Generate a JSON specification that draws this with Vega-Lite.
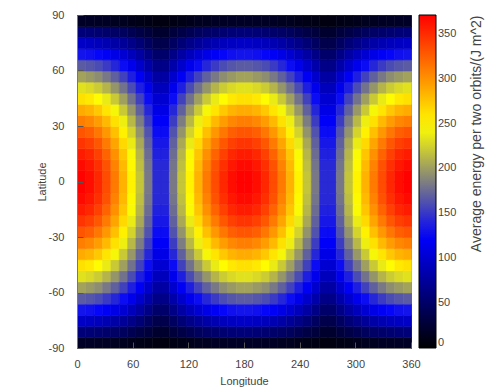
{
"$schema":"https://vega.github.io/schema/vega-lite/v6.json",
"width":334,"height":333,
"autosize":"none",
"padding":{"left":77,"top":15,"right":74,"bottom":44},
"background":"white",
"config":{
 "font":"Liberation Sans",
 "view":{"stroke":"#777","strokeWidth":1},
 "axis":{"grid":false,"labelFontSize":11,"labelColor":"#444","titleFontSize":11,"titleFontWeight":"normal","titleColor":"#444","domainColor":"#777","tickColor":"#555","labelFlush":false},
 "legend":{"gradientLength":333,"gradientThickness":17,"gradientStrokeColor":"#000","gradientStrokeWidth":1,"labelOffset":10,"labelFontSize":11,"labelColor":"#444","labelBaseline":"middle","padding":0}
},
"layer":[
{
"data":{"values":[
{"x":0,"y":-90,"v":19},{"x":9,"y":-90,"v":19},{"x":18,"y":-90,"v":18},{"x":27,"y":-90,"v":18},{"x":36,"y":-90,"v":16},{"x":45,"y":-90,"v":15},{"x":54,"y":-90,"v":13},{"x":63,"y":-90,"v":11},{"x":72,"y":-90,"v":10},{"x":81,"y":-90,"v":8},{"x":90,"y":-90,"v":8},{"x":99,"y":-90,"v":10},{"x":108,"y":-90,"v":11},{"x":117,"y":-90,"v":13},{"x":126,"y":-90,"v":15},{"x":135,"y":-90,"v":16},{"x":144,"y":-90,"v":18},{"x":153,"y":-90,"v":18},{"x":162,"y":-90,"v":19},{"x":171,"y":-90,"v":19},{"x":180,"y":-90,"v":19},{"x":189,"y":-90,"v":19},{"x":198,"y":-90,"v":18},{"x":207,"y":-90,"v":18},{"x":216,"y":-90,"v":16},{"x":225,"y":-90,"v":15},{"x":234,"y":-90,"v":13},{"x":243,"y":-90,"v":11},{"x":252,"y":-90,"v":10},{"x":261,"y":-90,"v":8},{"x":270,"y":-90,"v":8},{"x":279,"y":-90,"v":10},{"x":288,"y":-90,"v":11},{"x":297,"y":-90,"v":13},{"x":306,"y":-90,"v":15},{"x":315,"y":-90,"v":16},{"x":324,"y":-90,"v":18},{"x":333,"y":-90,"v":18},{"x":342,"y":-90,"v":19},{"x":351,"y":-90,"v":19},
{"x":0,"y":-84,"v":58},{"x":9,"y":-84,"v":57},{"x":18,"y":-84,"v":55},{"x":27,"y":-84,"v":52},{"x":36,"y":-84,"v":49},{"x":45,"y":-84,"v":45},{"x":54,"y":-84,"v":40},{"x":63,"y":-84,"v":34},{"x":72,"y":-84,"v":29},{"x":81,"y":-84,"v":23},{"x":90,"y":-84,"v":23},{"x":99,"y":-84,"v":29},{"x":108,"y":-84,"v":34},{"x":117,"y":-84,"v":40},{"x":126,"y":-84,"v":45},{"x":135,"y":-84,"v":49},{"x":144,"y":-84,"v":52},{"x":153,"y":-84,"v":55},{"x":162,"y":-84,"v":57},{"x":171,"y":-84,"v":58},{"x":180,"y":-84,"v":58},{"x":189,"y":-84,"v":57},{"x":198,"y":-84,"v":55},{"x":207,"y":-84,"v":52},{"x":216,"y":-84,"v":49},{"x":225,"y":-84,"v":45},{"x":234,"y":-84,"v":40},{"x":243,"y":-84,"v":34},{"x":252,"y":-84,"v":29},{"x":261,"y":-84,"v":23},{"x":270,"y":-84,"v":23},{"x":279,"y":-84,"v":29},{"x":288,"y":-84,"v":34},{"x":297,"y":-84,"v":40},{"x":306,"y":-84,"v":45},{"x":315,"y":-84,"v":49},{"x":324,"y":-84,"v":52},{"x":333,"y":-84,"v":55},{"x":342,"y":-84,"v":57},{"x":351,"y":-84,"v":58},
{"x":0,"y":-78,"v":96},{"x":9,"y":-78,"v":94},{"x":18,"y":-78,"v":91},{"x":27,"y":-78,"v":87},{"x":36,"y":-78,"v":81},{"x":45,"y":-78,"v":74},{"x":54,"y":-78,"v":66},{"x":63,"y":-78,"v":57},{"x":72,"y":-78,"v":47},{"x":81,"y":-78,"v":37},{"x":90,"y":-78,"v":37},{"x":99,"y":-78,"v":47},{"x":108,"y":-78,"v":57},{"x":117,"y":-78,"v":66},{"x":126,"y":-78,"v":74},{"x":135,"y":-78,"v":81},{"x":144,"y":-78,"v":87},{"x":153,"y":-78,"v":91},{"x":162,"y":-78,"v":94},{"x":171,"y":-78,"v":96},{"x":180,"y":-78,"v":96},{"x":189,"y":-78,"v":94},{"x":198,"y":-78,"v":91},{"x":207,"y":-78,"v":87},{"x":216,"y":-78,"v":81},{"x":225,"y":-78,"v":74},{"x":234,"y":-78,"v":66},{"x":243,"y":-78,"v":57},{"x":252,"y":-78,"v":47},{"x":261,"y":-78,"v":37},{"x":270,"y":-78,"v":37},{"x":279,"y":-78,"v":47},{"x":288,"y":-78,"v":57},{"x":297,"y":-78,"v":66},{"x":306,"y":-78,"v":74},{"x":315,"y":-78,"v":81},{"x":324,"y":-78,"v":87},{"x":333,"y":-78,"v":91},{"x":342,"y":-78,"v":94},{"x":351,"y":-78,"v":96},
{"x":0,"y":-72,"v":133},{"x":9,"y":-72,"v":131},{"x":18,"y":-72,"v":126},{"x":27,"y":-72,"v":120},{"x":36,"y":-72,"v":112},{"x":45,"y":-72,"v":102},{"x":54,"y":-72,"v":91},{"x":63,"y":-72,"v":79},{"x":72,"y":-72,"v":65},{"x":81,"y":-72,"v":52},{"x":90,"y":-72,"v":52},{"x":99,"y":-72,"v":65},{"x":108,"y":-72,"v":79},{"x":117,"y":-72,"v":91},{"x":126,"y":-72,"v":102},{"x":135,"y":-72,"v":112},{"x":144,"y":-72,"v":120},{"x":153,"y":-72,"v":126},{"x":162,"y":-72,"v":131},{"x":171,"y":-72,"v":133},{"x":180,"y":-72,"v":133},{"x":189,"y":-72,"v":131},{"x":198,"y":-72,"v":126},{"x":207,"y":-72,"v":120},{"x":216,"y":-72,"v":112},{"x":225,"y":-72,"v":102},{"x":234,"y":-72,"v":91},{"x":243,"y":-72,"v":79},{"x":252,"y":-72,"v":65},{"x":261,"y":-72,"v":52},{"x":270,"y":-72,"v":52},{"x":279,"y":-72,"v":65},{"x":288,"y":-72,"v":79},{"x":297,"y":-72,"v":91},{"x":306,"y":-72,"v":102},{"x":315,"y":-72,"v":112},{"x":324,"y":-72,"v":120},{"x":333,"y":-72,"v":126},{"x":342,"y":-72,"v":131},{"x":351,"y":-72,"v":133},
{"x":0,"y":-66,"v":168},{"x":9,"y":-66,"v":165},{"x":18,"y":-66,"v":160},{"x":27,"y":-66,"v":152},{"x":36,"y":-66,"v":142},{"x":45,"y":-66,"v":129},{"x":54,"y":-66,"v":115},{"x":63,"y":-66,"v":99},{"x":72,"y":-66,"v":83},{"x":81,"y":-66,"v":66},{"x":90,"y":-66,"v":66},{"x":99,"y":-66,"v":83},{"x":108,"y":-66,"v":99},{"x":117,"y":-66,"v":115},{"x":126,"y":-66,"v":129},{"x":135,"y":-66,"v":142},{"x":144,"y":-66,"v":152},{"x":153,"y":-66,"v":160},{"x":162,"y":-66,"v":165},{"x":171,"y":-66,"v":168},{"x":180,"y":-66,"v":168},{"x":189,"y":-66,"v":165},{"x":198,"y":-66,"v":160},{"x":207,"y":-66,"v":152},{"x":216,"y":-66,"v":142},{"x":225,"y":-66,"v":129},{"x":234,"y":-66,"v":115},{"x":243,"y":-66,"v":99},{"x":252,"y":-66,"v":83},{"x":261,"y":-66,"v":66},{"x":270,"y":-66,"v":66},{"x":279,"y":-66,"v":83},{"x":288,"y":-66,"v":99},{"x":297,"y":-66,"v":115},{"x":306,"y":-66,"v":129},{"x":315,"y":-66,"v":142},{"x":324,"y":-66,"v":152},{"x":333,"y":-66,"v":160},{"x":342,"y":-66,"v":165},{"x":351,"y":-66,"v":168},
{"x":0,"y":-60,"v":202},{"x":9,"y":-60,"v":198},{"x":18,"y":-60,"v":192},{"x":27,"y":-60,"v":182},{"x":36,"y":-60,"v":170},{"x":45,"y":-60,"v":155},{"x":54,"y":-60,"v":138},{"x":63,"y":-60,"v":119},{"x":72,"y":-60,"v":99},{"x":81,"y":-60,"v":79},{"x":90,"y":-60,"v":79},{"x":99,"y":-60,"v":99},{"x":108,"y":-60,"v":119},{"x":117,"y":-60,"v":138},{"x":126,"y":-60,"v":155},{"x":135,"y":-60,"v":170},{"x":144,"y":-60,"v":182},{"x":153,"y":-60,"v":192},{"x":162,"y":-60,"v":198},{"x":171,"y":-60,"v":202},{"x":180,"y":-60,"v":202},{"x":189,"y":-60,"v":198},{"x":198,"y":-60,"v":192},{"x":207,"y":-60,"v":182},{"x":216,"y":-60,"v":170},{"x":225,"y":-60,"v":155},{"x":234,"y":-60,"v":138},{"x":243,"y":-60,"v":119},{"x":252,"y":-60,"v":99},{"x":261,"y":-60,"v":79},{"x":270,"y":-60,"v":79},{"x":279,"y":-60,"v":99},{"x":288,"y":-60,"v":119},{"x":297,"y":-60,"v":138},{"x":306,"y":-60,"v":155},{"x":315,"y":-60,"v":170},{"x":324,"y":-60,"v":182},{"x":333,"y":-60,"v":192},{"x":342,"y":-60,"v":198},{"x":351,"y":-60,"v":202},
{"x":0,"y":-54,"v":233},{"x":9,"y":-54,"v":229},{"x":18,"y":-54,"v":222},{"x":27,"y":-54,"v":211},{"x":36,"y":-54,"v":196},{"x":45,"y":-54,"v":179},{"x":54,"y":-54,"v":160},{"x":63,"y":-54,"v":138},{"x":72,"y":-54,"v":115},{"x":81,"y":-54,"v":91},{"x":90,"y":-54,"v":91},{"x":99,"y":-54,"v":115},{"x":108,"y":-54,"v":138},{"x":117,"y":-54,"v":160},{"x":126,"y":-54,"v":179},{"x":135,"y":-54,"v":196},{"x":144,"y":-54,"v":211},{"x":153,"y":-54,"v":222},{"x":162,"y":-54,"v":229},{"x":171,"y":-54,"v":233},{"x":180,"y":-54,"v":233},{"x":189,"y":-54,"v":229},{"x":198,"y":-54,"v":222},{"x":207,"y":-54,"v":211},{"x":216,"y":-54,"v":196},{"x":225,"y":-54,"v":179},{"x":234,"y":-54,"v":160},{"x":243,"y":-54,"v":138},{"x":252,"y":-54,"v":115},{"x":261,"y":-54,"v":91},{"x":270,"y":-54,"v":91},{"x":279,"y":-54,"v":115},{"x":288,"y":-54,"v":138},{"x":297,"y":-54,"v":160},{"x":306,"y":-54,"v":179},{"x":315,"y":-54,"v":196},{"x":324,"y":-54,"v":211},{"x":333,"y":-54,"v":222},{"x":342,"y":-54,"v":229},{"x":351,"y":-54,"v":233},
{"x":0,"y":-48,"v":262},{"x":9,"y":-48,"v":258},{"x":18,"y":-48,"v":249},{"x":27,"y":-48,"v":237},{"x":36,"y":-48,"v":221},{"x":45,"y":-48,"v":201},{"x":54,"y":-48,"v":179},{"x":63,"y":-48,"v":155},{"x":72,"y":-48,"v":129},{"x":81,"y":-48,"v":102},{"x":90,"y":-48,"v":102},{"x":99,"y":-48,"v":129},{"x":108,"y":-48,"v":155},{"x":117,"y":-48,"v":179},{"x":126,"y":-48,"v":201},{"x":135,"y":-48,"v":221},{"x":144,"y":-48,"v":237},{"x":153,"y":-48,"v":249},{"x":162,"y":-48,"v":258},{"x":171,"y":-48,"v":262},{"x":180,"y":-48,"v":262},{"x":189,"y":-48,"v":258},{"x":198,"y":-48,"v":249},{"x":207,"y":-48,"v":237},{"x":216,"y":-48,"v":221},{"x":225,"y":-48,"v":201},{"x":234,"y":-48,"v":179},{"x":243,"y":-48,"v":155},{"x":252,"y":-48,"v":129},{"x":261,"y":-48,"v":102},{"x":270,"y":-48,"v":102},{"x":279,"y":-48,"v":129},{"x":288,"y":-48,"v":155},{"x":297,"y":-48,"v":179},{"x":306,"y":-48,"v":201},{"x":315,"y":-48,"v":221},{"x":324,"y":-48,"v":237},{"x":333,"y":-48,"v":249},{"x":342,"y":-48,"v":258},{"x":351,"y":-48,"v":262},
{"x":0,"y":-42,"v":288},{"x":9,"y":-42,"v":283},{"x":18,"y":-42,"v":274},{"x":27,"y":-42,"v":260},{"x":36,"y":-42,"v":243},{"x":45,"y":-42,"v":221},{"x":54,"y":-42,"v":197},{"x":63,"y":-42,"v":170},{"x":72,"y":-42,"v":142},{"x":81,"y":-42,"v":112},{"x":90,"y":-42,"v":112},{"x":99,"y":-42,"v":142},{"x":108,"y":-42,"v":170},{"x":117,"y":-42,"v":197},{"x":126,"y":-42,"v":221},{"x":135,"y":-42,"v":243},{"x":144,"y":-42,"v":260},{"x":153,"y":-42,"v":274},{"x":162,"y":-42,"v":283},{"x":171,"y":-42,"v":288},{"x":180,"y":-42,"v":288},{"x":189,"y":-42,"v":283},{"x":198,"y":-42,"v":274},{"x":207,"y":-42,"v":260},{"x":216,"y":-42,"v":243},{"x":225,"y":-42,"v":221},{"x":234,"y":-42,"v":197},{"x":243,"y":-42,"v":170},{"x":252,"y":-42,"v":142},{"x":261,"y":-42,"v":112},{"x":270,"y":-42,"v":112},{"x":279,"y":-42,"v":142},{"x":288,"y":-42,"v":170},{"x":297,"y":-42,"v":197},{"x":306,"y":-42,"v":221},{"x":315,"y":-42,"v":243},{"x":324,"y":-42,"v":260},{"x":333,"y":-42,"v":274},{"x":342,"y":-42,"v":283},{"x":351,"y":-42,"v":288},
{"x":0,"y":-36,"v":310},{"x":9,"y":-36,"v":305},{"x":18,"y":-36,"v":295},{"x":27,"y":-36,"v":281},{"x":36,"y":-36,"v":262},{"x":45,"y":-36,"v":239},{"x":54,"y":-36,"v":213},{"x":63,"y":-36,"v":184},{"x":72,"y":-36,"v":153},{"x":81,"y":-36,"v":121},{"x":90,"y":-36,"v":121},{"x":99,"y":-36,"v":153},{"x":108,"y":-36,"v":184},{"x":117,"y":-36,"v":213},{"x":126,"y":-36,"v":239},{"x":135,"y":-36,"v":262},{"x":144,"y":-36,"v":281},{"x":153,"y":-36,"v":295},{"x":162,"y":-36,"v":305},{"x":171,"y":-36,"v":310},{"x":180,"y":-36,"v":310},{"x":189,"y":-36,"v":305},{"x":198,"y":-36,"v":295},{"x":207,"y":-36,"v":281},{"x":216,"y":-36,"v":262},{"x":225,"y":-36,"v":239},{"x":234,"y":-36,"v":213},{"x":243,"y":-36,"v":184},{"x":252,"y":-36,"v":153},{"x":261,"y":-36,"v":121},{"x":270,"y":-36,"v":121},{"x":279,"y":-36,"v":153},{"x":288,"y":-36,"v":184},{"x":297,"y":-36,"v":213},{"x":306,"y":-36,"v":239},{"x":315,"y":-36,"v":262},{"x":324,"y":-36,"v":281},{"x":333,"y":-36,"v":295},{"x":342,"y":-36,"v":305},{"x":351,"y":-36,"v":310},
{"x":0,"y":-30,"v":330},{"x":9,"y":-30,"v":325},{"x":18,"y":-30,"v":314},{"x":27,"y":-30,"v":298},{"x":36,"y":-30,"v":278},{"x":45,"y":-30,"v":254},{"x":54,"y":-30,"v":226},{"x":63,"y":-30,"v":195},{"x":72,"y":-30,"v":163},{"x":81,"y":-30,"v":129},{"x":90,"y":-30,"v":129},{"x":99,"y":-30,"v":163},{"x":108,"y":-30,"v":195},{"x":117,"y":-30,"v":226},{"x":126,"y":-30,"v":254},{"x":135,"y":-30,"v":278},{"x":144,"y":-30,"v":298},{"x":153,"y":-30,"v":314},{"x":162,"y":-30,"v":325},{"x":171,"y":-30,"v":330},{"x":180,"y":-30,"v":330},{"x":189,"y":-30,"v":325},{"x":198,"y":-30,"v":314},{"x":207,"y":-30,"v":298},{"x":216,"y":-30,"v":278},{"x":225,"y":-30,"v":254},{"x":234,"y":-30,"v":226},{"x":243,"y":-30,"v":195},{"x":252,"y":-30,"v":163},{"x":261,"y":-30,"v":129},{"x":270,"y":-30,"v":129},{"x":279,"y":-30,"v":163},{"x":288,"y":-30,"v":195},{"x":297,"y":-30,"v":226},{"x":306,"y":-30,"v":254},{"x":315,"y":-30,"v":278},{"x":324,"y":-30,"v":298},{"x":333,"y":-30,"v":314},{"x":342,"y":-30,"v":325},{"x":351,"y":-30,"v":330},
{"x":0,"y":-24,"v":346},{"x":9,"y":-24,"v":340},{"x":18,"y":-24,"v":329},{"x":27,"y":-24,"v":312},{"x":36,"y":-24,"v":291},{"x":45,"y":-24,"v":266},{"x":54,"y":-24,"v":237},{"x":63,"y":-24,"v":205},{"x":72,"y":-24,"v":170},{"x":81,"y":-24,"v":135},{"x":90,"y":-24,"v":135},{"x":99,"y":-24,"v":170},{"x":108,"y":-24,"v":205},{"x":117,"y":-24,"v":237},{"x":126,"y":-24,"v":266},{"x":135,"y":-24,"v":291},{"x":144,"y":-24,"v":312},{"x":153,"y":-24,"v":329},{"x":162,"y":-24,"v":340},{"x":171,"y":-24,"v":346},{"x":180,"y":-24,"v":346},{"x":189,"y":-24,"v":340},{"x":198,"y":-24,"v":329},{"x":207,"y":-24,"v":312},{"x":216,"y":-24,"v":291},{"x":225,"y":-24,"v":266},{"x":234,"y":-24,"v":237},{"x":243,"y":-24,"v":205},{"x":252,"y":-24,"v":170},{"x":261,"y":-24,"v":135},{"x":270,"y":-24,"v":135},{"x":279,"y":-24,"v":170},{"x":288,"y":-24,"v":205},{"x":297,"y":-24,"v":237},{"x":306,"y":-24,"v":266},{"x":315,"y":-24,"v":291},{"x":324,"y":-24,"v":312},{"x":333,"y":-24,"v":329},{"x":342,"y":-24,"v":340},{"x":351,"y":-24,"v":346},
{"x":0,"y":-18,"v":358},{"x":9,"y":-18,"v":352},{"x":18,"y":-18,"v":340},{"x":27,"y":-18,"v":323},{"x":36,"y":-18,"v":301},{"x":45,"y":-18,"v":275},{"x":54,"y":-18,"v":245},{"x":63,"y":-18,"v":212},{"x":72,"y":-18,"v":176},{"x":81,"y":-18,"v":139},{"x":90,"y":-18,"v":139},{"x":99,"y":-18,"v":176},{"x":108,"y":-18,"v":212},{"x":117,"y":-18,"v":245},{"x":126,"y":-18,"v":275},{"x":135,"y":-18,"v":301},{"x":144,"y":-18,"v":323},{"x":153,"y":-18,"v":340},{"x":162,"y":-18,"v":352},{"x":171,"y":-18,"v":358},{"x":180,"y":-18,"v":358},{"x":189,"y":-18,"v":352},{"x":198,"y":-18,"v":340},{"x":207,"y":-18,"v":323},{"x":216,"y":-18,"v":301},{"x":225,"y":-18,"v":275},{"x":234,"y":-18,"v":245},{"x":243,"y":-18,"v":212},{"x":252,"y":-18,"v":176},{"x":261,"y":-18,"v":139},{"x":270,"y":-18,"v":139},{"x":279,"y":-18,"v":176},{"x":288,"y":-18,"v":212},{"x":297,"y":-18,"v":245},{"x":306,"y":-18,"v":275},{"x":315,"y":-18,"v":301},{"x":324,"y":-18,"v":323},{"x":333,"y":-18,"v":340},{"x":342,"y":-18,"v":352},{"x":351,"y":-18,"v":358},
{"x":0,"y":-12,"v":366},{"x":9,"y":-12,"v":360},{"x":18,"y":-12,"v":348},{"x":27,"y":-12,"v":331},{"x":36,"y":-12,"v":308},{"x":45,"y":-12,"v":281},{"x":54,"y":-12,"v":250},{"x":63,"y":-12,"v":216},{"x":72,"y":-12,"v":180},{"x":81,"y":-12,"v":143},{"x":90,"y":-12,"v":143},{"x":99,"y":-12,"v":180},{"x":108,"y":-12,"v":216},{"x":117,"y":-12,"v":250},{"x":126,"y":-12,"v":281},{"x":135,"y":-12,"v":308},{"x":144,"y":-12,"v":331},{"x":153,"y":-12,"v":348},{"x":162,"y":-12,"v":360},{"x":171,"y":-12,"v":366},{"x":180,"y":-12,"v":366},{"x":189,"y":-12,"v":360},{"x":198,"y":-12,"v":348},{"x":207,"y":-12,"v":331},{"x":216,"y":-12,"v":308},{"x":225,"y":-12,"v":281},{"x":234,"y":-12,"v":250},{"x":243,"y":-12,"v":216},{"x":252,"y":-12,"v":180},{"x":261,"y":-12,"v":143},{"x":270,"y":-12,"v":143},{"x":279,"y":-12,"v":180},{"x":288,"y":-12,"v":216},{"x":297,"y":-12,"v":250},{"x":306,"y":-12,"v":281},{"x":315,"y":-12,"v":308},{"x":324,"y":-12,"v":331},{"x":333,"y":-12,"v":348},{"x":342,"y":-12,"v":360},{"x":351,"y":-12,"v":366},
{"x":0,"y":-6,"v":370},{"x":9,"y":-6,"v":364},{"x":18,"y":-6,"v":352},{"x":27,"y":-6,"v":334},{"x":36,"y":-6,"v":312},{"x":45,"y":-6,"v":284},{"x":54,"y":-6,"v":253},{"x":63,"y":-6,"v":219},{"x":72,"y":-6,"v":182},{"x":81,"y":-6,"v":144},{"x":90,"y":-6,"v":144},{"x":99,"y":-6,"v":182},{"x":108,"y":-6,"v":219},{"x":117,"y":-6,"v":253},{"x":126,"y":-6,"v":284},{"x":135,"y":-6,"v":312},{"x":144,"y":-6,"v":334},{"x":153,"y":-6,"v":352},{"x":162,"y":-6,"v":364},{"x":171,"y":-6,"v":370},{"x":180,"y":-6,"v":370},{"x":189,"y":-6,"v":364},{"x":198,"y":-6,"v":352},{"x":207,"y":-6,"v":334},{"x":216,"y":-6,"v":312},{"x":225,"y":-6,"v":284},{"x":234,"y":-6,"v":253},{"x":243,"y":-6,"v":219},{"x":252,"y":-6,"v":182},{"x":261,"y":-6,"v":144},{"x":270,"y":-6,"v":144},{"x":279,"y":-6,"v":182},{"x":288,"y":-6,"v":219},{"x":297,"y":-6,"v":253},{"x":306,"y":-6,"v":284},{"x":315,"y":-6,"v":312},{"x":324,"y":-6,"v":334},{"x":333,"y":-6,"v":352},{"x":342,"y":-6,"v":364},{"x":351,"y":-6,"v":370},
{"x":0,"y":0,"v":370},{"x":9,"y":0,"v":364},{"x":18,"y":0,"v":352},{"x":27,"y":0,"v":334},{"x":36,"y":0,"v":312},{"x":45,"y":0,"v":284},{"x":54,"y":0,"v":253},{"x":63,"y":0,"v":219},{"x":72,"y":0,"v":182},{"x":81,"y":0,"v":144},{"x":90,"y":0,"v":144},{"x":99,"y":0,"v":182},{"x":108,"y":0,"v":219},{"x":117,"y":0,"v":253},{"x":126,"y":0,"v":284},{"x":135,"y":0,"v":312},{"x":144,"y":0,"v":334},{"x":153,"y":0,"v":352},{"x":162,"y":0,"v":364},{"x":171,"y":0,"v":370},{"x":180,"y":0,"v":370},{"x":189,"y":0,"v":364},{"x":198,"y":0,"v":352},{"x":207,"y":0,"v":334},{"x":216,"y":0,"v":312},{"x":225,"y":0,"v":284},{"x":234,"y":0,"v":253},{"x":243,"y":0,"v":219},{"x":252,"y":0,"v":182},{"x":261,"y":0,"v":144},{"x":270,"y":0,"v":144},{"x":279,"y":0,"v":182},{"x":288,"y":0,"v":219},{"x":297,"y":0,"v":253},{"x":306,"y":0,"v":284},{"x":315,"y":0,"v":312},{"x":324,"y":0,"v":334},{"x":333,"y":0,"v":352},{"x":342,"y":0,"v":364},{"x":351,"y":0,"v":370},
{"x":0,"y":6,"v":366},{"x":9,"y":6,"v":360},{"x":18,"y":6,"v":348},{"x":27,"y":6,"v":331},{"x":36,"y":6,"v":308},{"x":45,"y":6,"v":281},{"x":54,"y":6,"v":250},{"x":63,"y":6,"v":216},{"x":72,"y":6,"v":180},{"x":81,"y":6,"v":143},{"x":90,"y":6,"v":143},{"x":99,"y":6,"v":180},{"x":108,"y":6,"v":216},{"x":117,"y":6,"v":250},{"x":126,"y":6,"v":281},{"x":135,"y":6,"v":308},{"x":144,"y":6,"v":331},{"x":153,"y":6,"v":348},{"x":162,"y":6,"v":360},{"x":171,"y":6,"v":366},{"x":180,"y":6,"v":366},{"x":189,"y":6,"v":360},{"x":198,"y":6,"v":348},{"x":207,"y":6,"v":331},{"x":216,"y":6,"v":308},{"x":225,"y":6,"v":281},{"x":234,"y":6,"v":250},{"x":243,"y":6,"v":216},{"x":252,"y":6,"v":180},{"x":261,"y":6,"v":143},{"x":270,"y":6,"v":143},{"x":279,"y":6,"v":180},{"x":288,"y":6,"v":216},{"x":297,"y":6,"v":250},{"x":306,"y":6,"v":281},{"x":315,"y":6,"v":308},{"x":324,"y":6,"v":331},{"x":333,"y":6,"v":348},{"x":342,"y":6,"v":360},{"x":351,"y":6,"v":366},
{"x":0,"y":12,"v":358},{"x":9,"y":12,"v":352},{"x":18,"y":12,"v":340},{"x":27,"y":12,"v":323},{"x":36,"y":12,"v":301},{"x":45,"y":12,"v":275},{"x":54,"y":12,"v":245},{"x":63,"y":12,"v":212},{"x":72,"y":12,"v":176},{"x":81,"y":12,"v":139},{"x":90,"y":12,"v":139},{"x":99,"y":12,"v":176},{"x":108,"y":12,"v":212},{"x":117,"y":12,"v":245},{"x":126,"y":12,"v":275},{"x":135,"y":12,"v":301},{"x":144,"y":12,"v":323},{"x":153,"y":12,"v":340},{"x":162,"y":12,"v":352},{"x":171,"y":12,"v":358},{"x":180,"y":12,"v":358},{"x":189,"y":12,"v":352},{"x":198,"y":12,"v":340},{"x":207,"y":12,"v":323},{"x":216,"y":12,"v":301},{"x":225,"y":12,"v":275},{"x":234,"y":12,"v":245},{"x":243,"y":12,"v":212},{"x":252,"y":12,"v":176},{"x":261,"y":12,"v":139},{"x":270,"y":12,"v":139},{"x":279,"y":12,"v":176},{"x":288,"y":12,"v":212},{"x":297,"y":12,"v":245},{"x":306,"y":12,"v":275},{"x":315,"y":12,"v":301},{"x":324,"y":12,"v":323},{"x":333,"y":12,"v":340},{"x":342,"y":12,"v":352},{"x":351,"y":12,"v":358},
{"x":0,"y":18,"v":346},{"x":9,"y":18,"v":340},{"x":18,"y":18,"v":329},{"x":27,"y":18,"v":312},{"x":36,"y":18,"v":291},{"x":45,"y":18,"v":266},{"x":54,"y":18,"v":237},{"x":63,"y":18,"v":205},{"x":72,"y":18,"v":170},{"x":81,"y":18,"v":135},{"x":90,"y":18,"v":135},{"x":99,"y":18,"v":170},{"x":108,"y":18,"v":205},{"x":117,"y":18,"v":237},{"x":126,"y":18,"v":266},{"x":135,"y":18,"v":291},{"x":144,"y":18,"v":312},{"x":153,"y":18,"v":329},{"x":162,"y":18,"v":340},{"x":171,"y":18,"v":346},{"x":180,"y":18,"v":346},{"x":189,"y":18,"v":340},{"x":198,"y":18,"v":329},{"x":207,"y":18,"v":312},{"x":216,"y":18,"v":291},{"x":225,"y":18,"v":266},{"x":234,"y":18,"v":237},{"x":243,"y":18,"v":205},{"x":252,"y":18,"v":170},{"x":261,"y":18,"v":135},{"x":270,"y":18,"v":135},{"x":279,"y":18,"v":170},{"x":288,"y":18,"v":205},{"x":297,"y":18,"v":237},{"x":306,"y":18,"v":266},{"x":315,"y":18,"v":291},{"x":324,"y":18,"v":312},{"x":333,"y":18,"v":329},{"x":342,"y":18,"v":340},{"x":351,"y":18,"v":346},
{"x":0,"y":24,"v":330},{"x":9,"y":24,"v":325},{"x":18,"y":24,"v":314},{"x":27,"y":24,"v":298},{"x":36,"y":24,"v":278},{"x":45,"y":24,"v":254},{"x":54,"y":24,"v":226},{"x":63,"y":24,"v":195},{"x":72,"y":24,"v":163},{"x":81,"y":24,"v":129},{"x":90,"y":24,"v":129},{"x":99,"y":24,"v":163},{"x":108,"y":24,"v":195},{"x":117,"y":24,"v":226},{"x":126,"y":24,"v":254},{"x":135,"y":24,"v":278},{"x":144,"y":24,"v":298},{"x":153,"y":24,"v":314},{"x":162,"y":24,"v":325},{"x":171,"y":24,"v":330},{"x":180,"y":24,"v":330},{"x":189,"y":24,"v":325},{"x":198,"y":24,"v":314},{"x":207,"y":24,"v":298},{"x":216,"y":24,"v":278},{"x":225,"y":24,"v":254},{"x":234,"y":24,"v":226},{"x":243,"y":24,"v":195},{"x":252,"y":24,"v":163},{"x":261,"y":24,"v":129},{"x":270,"y":24,"v":129},{"x":279,"y":24,"v":163},{"x":288,"y":24,"v":195},{"x":297,"y":24,"v":226},{"x":306,"y":24,"v":254},{"x":315,"y":24,"v":278},{"x":324,"y":24,"v":298},{"x":333,"y":24,"v":314},{"x":342,"y":24,"v":325},{"x":351,"y":24,"v":330},
{"x":0,"y":30,"v":310},{"x":9,"y":30,"v":305},{"x":18,"y":30,"v":295},{"x":27,"y":30,"v":281},{"x":36,"y":30,"v":262},{"x":45,"y":30,"v":239},{"x":54,"y":30,"v":213},{"x":63,"y":30,"v":184},{"x":72,"y":30,"v":153},{"x":81,"y":30,"v":121},{"x":90,"y":30,"v":121},{"x":99,"y":30,"v":153},{"x":108,"y":30,"v":184},{"x":117,"y":30,"v":213},{"x":126,"y":30,"v":239},{"x":135,"y":30,"v":262},{"x":144,"y":30,"v":281},{"x":153,"y":30,"v":295},{"x":162,"y":30,"v":305},{"x":171,"y":30,"v":310},{"x":180,"y":30,"v":310},{"x":189,"y":30,"v":305},{"x":198,"y":30,"v":295},{"x":207,"y":30,"v":281},{"x":216,"y":30,"v":262},{"x":225,"y":30,"v":239},{"x":234,"y":30,"v":213},{"x":243,"y":30,"v":184},{"x":252,"y":30,"v":153},{"x":261,"y":30,"v":121},{"x":270,"y":30,"v":121},{"x":279,"y":30,"v":153},{"x":288,"y":30,"v":184},{"x":297,"y":30,"v":213},{"x":306,"y":30,"v":239},{"x":315,"y":30,"v":262},{"x":324,"y":30,"v":281},{"x":333,"y":30,"v":295},{"x":342,"y":30,"v":305},{"x":351,"y":30,"v":310},
{"x":0,"y":36,"v":288},{"x":9,"y":36,"v":283},{"x":18,"y":36,"v":274},{"x":27,"y":36,"v":260},{"x":36,"y":36,"v":243},{"x":45,"y":36,"v":221},{"x":54,"y":36,"v":197},{"x":63,"y":36,"v":170},{"x":72,"y":36,"v":142},{"x":81,"y":36,"v":112},{"x":90,"y":36,"v":112},{"x":99,"y":36,"v":142},{"x":108,"y":36,"v":170},{"x":117,"y":36,"v":197},{"x":126,"y":36,"v":221},{"x":135,"y":36,"v":243},{"x":144,"y":36,"v":260},{"x":153,"y":36,"v":274},{"x":162,"y":36,"v":283},{"x":171,"y":36,"v":288},{"x":180,"y":36,"v":288},{"x":189,"y":36,"v":283},{"x":198,"y":36,"v":274},{"x":207,"y":36,"v":260},{"x":216,"y":36,"v":243},{"x":225,"y":36,"v":221},{"x":234,"y":36,"v":197},{"x":243,"y":36,"v":170},{"x":252,"y":36,"v":142},{"x":261,"y":36,"v":112},{"x":270,"y":36,"v":112},{"x":279,"y":36,"v":142},{"x":288,"y":36,"v":170},{"x":297,"y":36,"v":197},{"x":306,"y":36,"v":221},{"x":315,"y":36,"v":243},{"x":324,"y":36,"v":260},{"x":333,"y":36,"v":274},{"x":342,"y":36,"v":283},{"x":351,"y":36,"v":288},
{"x":0,"y":42,"v":262},{"x":9,"y":42,"v":258},{"x":18,"y":42,"v":249},{"x":27,"y":42,"v":237},{"x":36,"y":42,"v":221},{"x":45,"y":42,"v":201},{"x":54,"y":42,"v":179},{"x":63,"y":42,"v":155},{"x":72,"y":42,"v":129},{"x":81,"y":42,"v":102},{"x":90,"y":42,"v":102},{"x":99,"y":42,"v":129},{"x":108,"y":42,"v":155},{"x":117,"y":42,"v":179},{"x":126,"y":42,"v":201},{"x":135,"y":42,"v":221},{"x":144,"y":42,"v":237},{"x":153,"y":42,"v":249},{"x":162,"y":42,"v":258},{"x":171,"y":42,"v":262},{"x":180,"y":42,"v":262},{"x":189,"y":42,"v":258},{"x":198,"y":42,"v":249},{"x":207,"y":42,"v":237},{"x":216,"y":42,"v":221},{"x":225,"y":42,"v":201},{"x":234,"y":42,"v":179},{"x":243,"y":42,"v":155},{"x":252,"y":42,"v":129},{"x":261,"y":42,"v":102},{"x":270,"y":42,"v":102},{"x":279,"y":42,"v":129},{"x":288,"y":42,"v":155},{"x":297,"y":42,"v":179},{"x":306,"y":42,"v":201},{"x":315,"y":42,"v":221},{"x":324,"y":42,"v":237},{"x":333,"y":42,"v":249},{"x":342,"y":42,"v":258},{"x":351,"y":42,"v":262},
{"x":0,"y":48,"v":233},{"x":9,"y":48,"v":229},{"x":18,"y":48,"v":222},{"x":27,"y":48,"v":211},{"x":36,"y":48,"v":196},{"x":45,"y":48,"v":179},{"x":54,"y":48,"v":160},{"x":63,"y":48,"v":138},{"x":72,"y":48,"v":115},{"x":81,"y":48,"v":91},{"x":90,"y":48,"v":91},{"x":99,"y":48,"v":115},{"x":108,"y":48,"v":138},{"x":117,"y":48,"v":160},{"x":126,"y":48,"v":179},{"x":135,"y":48,"v":196},{"x":144,"y":48,"v":211},{"x":153,"y":48,"v":222},{"x":162,"y":48,"v":229},{"x":171,"y":48,"v":233},{"x":180,"y":48,"v":233},{"x":189,"y":48,"v":229},{"x":198,"y":48,"v":222},{"x":207,"y":48,"v":211},{"x":216,"y":48,"v":196},{"x":225,"y":48,"v":179},{"x":234,"y":48,"v":160},{"x":243,"y":48,"v":138},{"x":252,"y":48,"v":115},{"x":261,"y":48,"v":91},{"x":270,"y":48,"v":91},{"x":279,"y":48,"v":115},{"x":288,"y":48,"v":138},{"x":297,"y":48,"v":160},{"x":306,"y":48,"v":179},{"x":315,"y":48,"v":196},{"x":324,"y":48,"v":211},{"x":333,"y":48,"v":222},{"x":342,"y":48,"v":229},{"x":351,"y":48,"v":233},
{"x":0,"y":54,"v":202},{"x":9,"y":54,"v":198},{"x":18,"y":54,"v":192},{"x":27,"y":54,"v":182},{"x":36,"y":54,"v":170},{"x":45,"y":54,"v":155},{"x":54,"y":54,"v":138},{"x":63,"y":54,"v":119},{"x":72,"y":54,"v":99},{"x":81,"y":54,"v":79},{"x":90,"y":54,"v":79},{"x":99,"y":54,"v":99},{"x":108,"y":54,"v":119},{"x":117,"y":54,"v":138},{"x":126,"y":54,"v":155},{"x":135,"y":54,"v":170},{"x":144,"y":54,"v":182},{"x":153,"y":54,"v":192},{"x":162,"y":54,"v":198},{"x":171,"y":54,"v":202},{"x":180,"y":54,"v":202},{"x":189,"y":54,"v":198},{"x":198,"y":54,"v":192},{"x":207,"y":54,"v":182},{"x":216,"y":54,"v":170},{"x":225,"y":54,"v":155},{"x":234,"y":54,"v":138},{"x":243,"y":54,"v":119},{"x":252,"y":54,"v":99},{"x":261,"y":54,"v":79},{"x":270,"y":54,"v":79},{"x":279,"y":54,"v":99},{"x":288,"y":54,"v":119},{"x":297,"y":54,"v":138},{"x":306,"y":54,"v":155},{"x":315,"y":54,"v":170},{"x":324,"y":54,"v":182},{"x":333,"y":54,"v":192},{"x":342,"y":54,"v":198},{"x":351,"y":54,"v":202},
{"x":0,"y":60,"v":168},{"x":9,"y":60,"v":165},{"x":18,"y":60,"v":160},{"x":27,"y":60,"v":152},{"x":36,"y":60,"v":142},{"x":45,"y":60,"v":129},{"x":54,"y":60,"v":115},{"x":63,"y":60,"v":99},{"x":72,"y":60,"v":83},{"x":81,"y":60,"v":66},{"x":90,"y":60,"v":66},{"x":99,"y":60,"v":83},{"x":108,"y":60,"v":99},{"x":117,"y":60,"v":115},{"x":126,"y":60,"v":129},{"x":135,"y":60,"v":142},{"x":144,"y":60,"v":152},{"x":153,"y":60,"v":160},{"x":162,"y":60,"v":165},{"x":171,"y":60,"v":168},{"x":180,"y":60,"v":168},{"x":189,"y":60,"v":165},{"x":198,"y":60,"v":160},{"x":207,"y":60,"v":152},{"x":216,"y":60,"v":142},{"x":225,"y":60,"v":129},{"x":234,"y":60,"v":115},{"x":243,"y":60,"v":99},{"x":252,"y":60,"v":83},{"x":261,"y":60,"v":66},{"x":270,"y":60,"v":66},{"x":279,"y":60,"v":83},{"x":288,"y":60,"v":99},{"x":297,"y":60,"v":115},{"x":306,"y":60,"v":129},{"x":315,"y":60,"v":142},{"x":324,"y":60,"v":152},{"x":333,"y":60,"v":160},{"x":342,"y":60,"v":165},{"x":351,"y":60,"v":168},
{"x":0,"y":66,"v":133},{"x":9,"y":66,"v":131},{"x":18,"y":66,"v":126},{"x":27,"y":66,"v":120},{"x":36,"y":66,"v":112},{"x":45,"y":66,"v":102},{"x":54,"y":66,"v":91},{"x":63,"y":66,"v":79},{"x":72,"y":66,"v":65},{"x":81,"y":66,"v":52},{"x":90,"y":66,"v":52},{"x":99,"y":66,"v":65},{"x":108,"y":66,"v":79},{"x":117,"y":66,"v":91},{"x":126,"y":66,"v":102},{"x":135,"y":66,"v":112},{"x":144,"y":66,"v":120},{"x":153,"y":66,"v":126},{"x":162,"y":66,"v":131},{"x":171,"y":66,"v":133},{"x":180,"y":66,"v":133},{"x":189,"y":66,"v":131},{"x":198,"y":66,"v":126},{"x":207,"y":66,"v":120},{"x":216,"y":66,"v":112},{"x":225,"y":66,"v":102},{"x":234,"y":66,"v":91},{"x":243,"y":66,"v":79},{"x":252,"y":66,"v":65},{"x":261,"y":66,"v":52},{"x":270,"y":66,"v":52},{"x":279,"y":66,"v":65},{"x":288,"y":66,"v":79},{"x":297,"y":66,"v":91},{"x":306,"y":66,"v":102},{"x":315,"y":66,"v":112},{"x":324,"y":66,"v":120},{"x":333,"y":66,"v":126},{"x":342,"y":66,"v":131},{"x":351,"y":66,"v":133},
{"x":0,"y":72,"v":96},{"x":9,"y":72,"v":94},{"x":18,"y":72,"v":91},{"x":27,"y":72,"v":87},{"x":36,"y":72,"v":81},{"x":45,"y":72,"v":74},{"x":54,"y":72,"v":66},{"x":63,"y":72,"v":57},{"x":72,"y":72,"v":47},{"x":81,"y":72,"v":37},{"x":90,"y":72,"v":37},{"x":99,"y":72,"v":47},{"x":108,"y":72,"v":57},{"x":117,"y":72,"v":66},{"x":126,"y":72,"v":74},{"x":135,"y":72,"v":81},{"x":144,"y":72,"v":87},{"x":153,"y":72,"v":91},{"x":162,"y":72,"v":94},{"x":171,"y":72,"v":96},{"x":180,"y":72,"v":96},{"x":189,"y":72,"v":94},{"x":198,"y":72,"v":91},{"x":207,"y":72,"v":87},{"x":216,"y":72,"v":81},{"x":225,"y":72,"v":74},{"x":234,"y":72,"v":66},{"x":243,"y":72,"v":57},{"x":252,"y":72,"v":47},{"x":261,"y":72,"v":37},{"x":270,"y":72,"v":37},{"x":279,"y":72,"v":47},{"x":288,"y":72,"v":57},{"x":297,"y":72,"v":66},{"x":306,"y":72,"v":74},{"x":315,"y":72,"v":81},{"x":324,"y":72,"v":87},{"x":333,"y":72,"v":91},{"x":342,"y":72,"v":94},{"x":351,"y":72,"v":96},
{"x":0,"y":78,"v":58},{"x":9,"y":78,"v":57},{"x":18,"y":78,"v":55},{"x":27,"y":78,"v":52},{"x":36,"y":78,"v":49},{"x":45,"y":78,"v":45},{"x":54,"y":78,"v":40},{"x":63,"y":78,"v":34},{"x":72,"y":78,"v":29},{"x":81,"y":78,"v":23},{"x":90,"y":78,"v":23},{"x":99,"y":78,"v":29},{"x":108,"y":78,"v":34},{"x":117,"y":78,"v":40},{"x":126,"y":78,"v":45},{"x":135,"y":78,"v":49},{"x":144,"y":78,"v":52},{"x":153,"y":78,"v":55},{"x":162,"y":78,"v":57},{"x":171,"y":78,"v":58},{"x":180,"y":78,"v":58},{"x":189,"y":78,"v":57},{"x":198,"y":78,"v":55},{"x":207,"y":78,"v":52},{"x":216,"y":78,"v":49},{"x":225,"y":78,"v":45},{"x":234,"y":78,"v":40},{"x":243,"y":78,"v":34},{"x":252,"y":78,"v":29},{"x":261,"y":78,"v":23},{"x":270,"y":78,"v":23},{"x":279,"y":78,"v":29},{"x":288,"y":78,"v":34},{"x":297,"y":78,"v":40},{"x":306,"y":78,"v":45},{"x":315,"y":78,"v":49},{"x":324,"y":78,"v":52},{"x":333,"y":78,"v":55},{"x":342,"y":78,"v":57},{"x":351,"y":78,"v":58},
{"x":0,"y":84,"v":19},{"x":9,"y":84,"v":19},{"x":18,"y":84,"v":18},{"x":27,"y":84,"v":18},{"x":36,"y":84,"v":16},{"x":45,"y":84,"v":15},{"x":54,"y":84,"v":13},{"x":63,"y":84,"v":11},{"x":72,"y":84,"v":10},{"x":81,"y":84,"v":8},{"x":90,"y":84,"v":8},{"x":99,"y":84,"v":10},{"x":108,"y":84,"v":11},{"x":117,"y":84,"v":13},{"x":126,"y":84,"v":15},{"x":135,"y":84,"v":16},{"x":144,"y":84,"v":18},{"x":153,"y":84,"v":18},{"x":162,"y":84,"v":19},{"x":171,"y":84,"v":19},{"x":180,"y":84,"v":19},{"x":189,"y":84,"v":19},{"x":198,"y":84,"v":18},{"x":207,"y":84,"v":18},{"x":216,"y":84,"v":16},{"x":225,"y":84,"v":15},{"x":234,"y":84,"v":13},{"x":243,"y":84,"v":11},{"x":252,"y":84,"v":10},{"x":261,"y":84,"v":8},{"x":270,"y":84,"v":8},{"x":279,"y":84,"v":10},{"x":288,"y":84,"v":11},{"x":297,"y":84,"v":13},{"x":306,"y":84,"v":15},{"x":315,"y":84,"v":16},{"x":324,"y":84,"v":18},{"x":333,"y":84,"v":18},{"x":342,"y":84,"v":19},{"x":351,"y":84,"v":19}
]},
"mark":{"type":"rect","strokeWidth":0.6,"stroke":{"expr":"scale('color', datum.v)"}},
"encoding":{
 "x":{"field":"x","type":"quantitative","bin":{"step":9,"extent":[0,360]},"scale":{"domain":[0,360],"nice":false,"zero":false},"axis":{"title":"Longitude","values":[0,60,120,180,240,300,360],"tickSize":-6,"labelPadding":16,"titlePadding":6,"zindex":1}},
 "y":{"field":"y","type":"quantitative","bin":{"step":6,"extent":[-90,90]},"scale":{"domain":[-90,90],"nice":false,"zero":false},"axis":{"title":"Latitude","values":[-90,-60,-30,0,30,60,90],"labelExpr":"'' + datum.value","tickSize":-6,"labelPadding":19,"titlePadding":1,"zindex":1}},
 "color":{"field":"v","type":"quantitative","scale":{"domain":[0,123.67,247.33,371],"range":["#000000","#0000ff","#ffff00","#ff0000"],"interpolate":"rgb"},
  "legend":{"title":null,"orient":"none","legendX":342,"legendY":0,"direction":"vertical","type":"gradient","values":[0,50,100,150,200,250,300,350]}}
}
},
{
"data":{"values":[{}]},
"mark":{"type":"rule","opacity":0},
"encoding":{"y":{"datum":0,"type":"quantitative","scale":{"domain":[0,1]},
 "axis":{"orient":"right","title":"Average energy per two orbits/(J m^2)","labels":false,"ticks":false,"domain":false,"grid":false,"offset":58,"titleAngle":-90,"titleAnchor":"end","titleAlign":"right","titleBaseline":"top","titlePadding":0,"titleFontSize":14}}}
}
],
"resolve":{"scale":{"y":"independent"}}
}
